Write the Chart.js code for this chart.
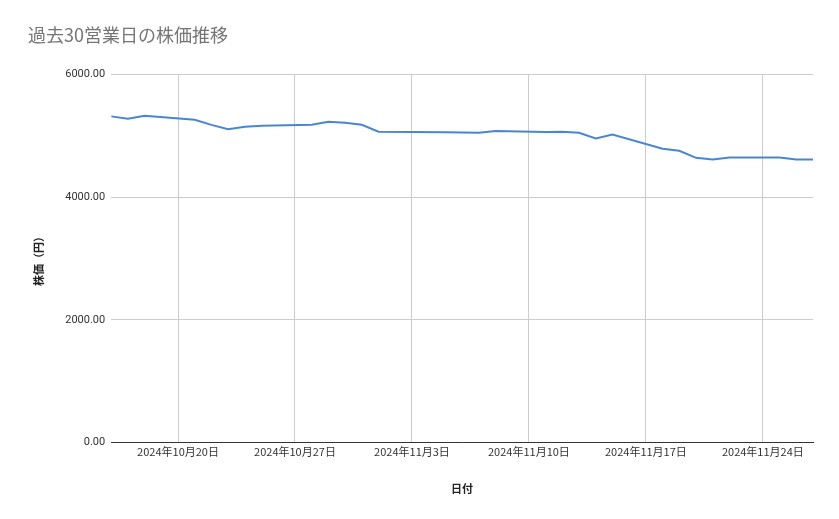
<!DOCTYPE html>
<html>
<head>
<meta charset="utf-8">
<script src="https://cdn.jsdelivr.net/npm/chart.js@4"></script>
<style>
  body { margin: 0; background: #fff; }
  #wrap { width: 839px; height: 519px; }
</style>
</head>
<body>
<div id="wrap"><canvas id="greatChart"></canvas></div>
<script>
const dates = ['2024-10-16', '2024-10-17', '2024-10-18', '2024-10-21', '2024-10-22', '2024-10-23', '2024-10-24', '2024-10-25',
    '2024-10-28', '2024-10-29', '2024-10-30', '2024-10-31', '2024-11-01', '2024-11-05', '2024-11-06', '2024-11-07',
    '2024-11-08', '2024-11-11', '2024-11-12', '2024-11-13', '2024-11-14', '2024-11-15', '2024-11-18', '2024-11-19',
    '2024-11-20', '2024-11-21', '2024-11-22', '2024-11-25', '2024-11-26', '2024-11-27'];
const prices = [5319, 5281, 5330, 5265, 5180, 5109, 5150, 5166,
    5183, 5232, 5215, 5183, 5070, 5060, 5057, 5052,
    5080, 5064, 5069, 5052, 4959, 5024, 4790, 4757,
    4643, 4616, 4648, 4648, 4616, 4616];
const tickDates = ['2024-10-20', '2024-10-27', '2024-11-03', '2024-11-10', '2024-11-17', '2024-11-24'];
const yTicks = [0, 2000, 4000, 6000];

const baseDay = Date.UTC(2024, 9, 20);
function day_offset(s) {
    const p = s.split('-');
    return (Date.UTC(+p[0], +p[1] - 1, +p[2]) - baseDay) / 86400000;
}
function format_jp_date(offset) {
    const d = new Date(baseDay + offset * 86400000);
    return `${d.getUTCFullYear()}年${d.getUTCMonth() + 1}月${d.getUTCDate()}日`;
}

const points = dates.map((d, i) => ({ x: day_offset(d), y: prices[i] }));

const ctx = document.getElementById('greatChart').getContext('2d');
new Chart(ctx, {
    type: 'line',
    data: {
        datasets: [{
            data: points,
            borderColor: '#4a86d0',
            borderWidth: 2,
            pointRadius: 0,
            tension: 0,
        }]
    },
    options: {
        responsive: true,
        maintainAspectRatio: false,
        animation: false,
        layout: { padding: { left: 28, right: 26, top: 10, bottom: 20 } },
        plugins: {
            legend: { display: false },
            tooltip: { enabled: false },
            title: {
                display: true,
                text: '過去30営業日の株価推移',
                align: 'start',
                color: '#757575',
                font: { family: 'Noto Sans CJK JP', size: 18, weight: 'normal' },
                padding: { top: 14, bottom: 29 }
            }
        },
        scales: {
            x: {
                type: 'linear',
                min: -4,
                max: 38,
                afterBuildTicks: (axis) => { axis.ticks = tickDates.map(t => ({ value: day_offset(t) })); },
                ticks: {
                    callback: (v) => format_jp_date(v),
                    color: '#333',
                    maxRotation: 0,
                    font: { family: 'Noto Sans CJK JP', size: 11 }
                },
                grid: { color: '#cccccc', drawTicks: false },
                border: { color: '#333' },
                title: {
                    display: true,
                    text: '日付',
                    color: '#222',
                    font: { family: 'Noto Sans CJK JP', size: 11, weight: 'bold' },
                    padding: { top: 20 }
                }
            },
            y: {
                min: 0,
                max: 6000,
                afterBuildTicks: (axis) => { axis.ticks = yTicks.map(v => ({ value: v })); },
                ticks: {
                    callback: (v) => v.toFixed(2),
                    color: '#333',
                    padding: 6,
                    font: { family: 'Roboto', size: 11 }
                },
                grid: { color: '#cccccc', drawTicks: false },
                border: { display: false },
                title: {
                    display: true,
                    text: '株価（円）',
                    color: '#222',
                    font: { family: 'Noto Sans CJK JP', size: 11, weight: 'bold' },
                    padding: { bottom: 14 }
                }
            }
        }
    }
});
</script>
</body>
</html>
